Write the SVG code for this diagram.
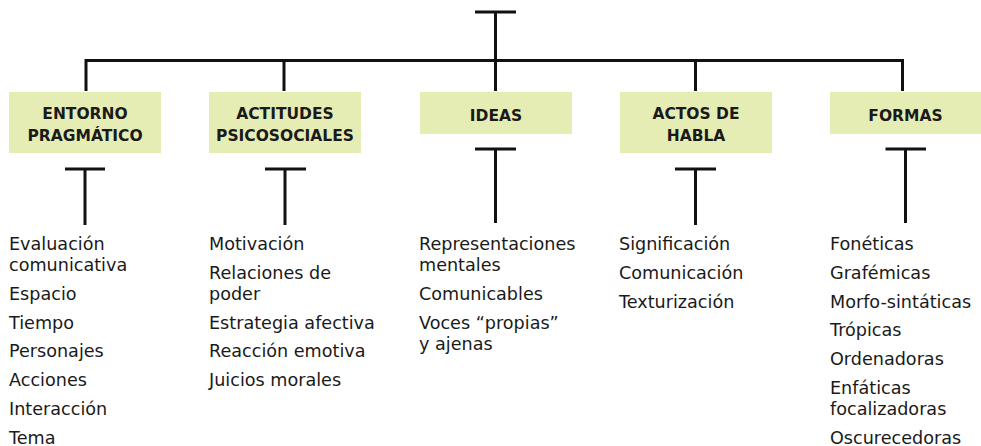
<svg xmlns="http://www.w3.org/2000/svg" width="981" height="446" viewBox="0 0 981 446">
<style>
.box{fill:#e6edb4;}
.hd{font-family:"DejaVu Sans",sans-serif;font-weight:bold;font-size:15.5px;fill:#1a1a1a;text-anchor:middle;}
.it{font-family:"DejaVu Sans",sans-serif;font-size:17.6px;fill:#1a1a1a;}
.ln{stroke:#111;stroke-width:3;fill:none;stroke-linecap:butt;}
</style>
<rect width="981" height="446" fill="#ffffff"/>
<g id="connectors">
<path class="ln" d="M475 12H516M495.5 12V91"/>
<path class="ln" d="M86 91V60.5H902.5V91M284 60.5V91M695.5 60.5V91"/>
<path class="ln" d="M65 169H105M85 169V225"/>
<path class="ln" d="M265 169H306M285 169V225"/>
<path class="ln" d="M475 149H516M495.5 149V223"/>
<path class="ln" d="M675 169H716M695.5 169V225"/>
<path class="ln" d="M885.5 149H926M905.5 149V223"/>
</g>
<g id="entorno">
<rect class="box" x="9" y="92" width="152" height="61"/>
<text class="hd" x="85" y="118.5">ENTORNO</text>
<text class="hd" x="85" y="141">PRAGMÁTICO</text>
<text class="it" x="9" y="250">Evaluación</text>
<text class="it" x="9" y="271">comunicativa</text>
<text class="it" x="9" y="299.8">Espacio</text>
<text class="it" x="9" y="328.6">Tiempo</text>
<text class="it" x="9" y="357.4">Personajes</text>
<text class="it" x="9" y="386.2">Acciones</text>
<text class="it" x="9" y="415">Interacción</text>
<text class="it" x="9" y="443.8">Tema</text>
</g>
<g id="actitudes">
<rect class="box" x="209" y="92" width="152" height="61"/>
<text class="hd" x="285" y="118.5">ACTITUDES</text>
<text class="hd" x="285" y="141">PSICOSOCIALES</text>
<text class="it" x="209" y="250">Motivación</text>
<text class="it" x="209" y="278.8">Relaciones de</text>
<text class="it" x="209" y="299.8">poder</text>
<text class="it" x="209" y="328.6">Estrategia afectiva</text>
<text class="it" x="209" y="357.4">Reacción emotiva</text>
<text class="it" x="209" y="386.2">Juicios morales</text>
</g>
<g id="ideas">
<rect class="box" x="420" y="92" width="152" height="42"/>
<text class="hd" x="496" y="121">IDEAS</text>
<text class="it" x="419" y="250">Representaciones</text>
<text class="it" x="419" y="271">mentales</text>
<text class="it" x="419" y="299.8">Comunicables</text>
<text class="it" x="419" y="328.6">Voces “propias”</text>
<text class="it" x="419" y="349.6">y ajenas</text>
</g>
<g id="actos">
<rect class="box" x="620" y="92" width="152" height="61"/>
<text class="hd" x="696" y="118.5">ACTOS DE</text>
<text class="hd" x="696" y="141">HABLA</text>
<text class="it" x="619" y="250">Significación</text>
<text class="it" x="619" y="278.8">Comunicación</text>
<text class="it" x="619" y="307.6">Texturización</text>
</g>
<g id="formas">
<rect class="box" x="830" y="92" width="151" height="42"/>
<text class="hd" x="905.5" y="120.5">FORMAS</text>
<text class="it" x="830" y="250">Fonéticas</text>
<text class="it" x="830" y="278.8">Grafémicas</text>
<text class="it" x="830" y="307.6">Morfo-sintáticas</text>
<text class="it" x="830" y="336.4">Trópicas</text>
<text class="it" x="830" y="365.2">Ordenadoras</text>
<text class="it" x="830" y="394">Enfáticas</text>
<text class="it" x="830" y="415">focalizadoras</text>
<text class="it" x="830" y="443.8">Oscurecedoras</text>
</g>
</svg>
